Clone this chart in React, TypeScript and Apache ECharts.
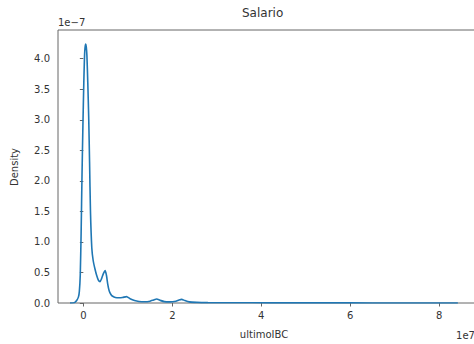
import React, { useEffect, useRef } from "react";
import * as echarts from "echarts";

// KDE of ultimoIBC: x in units of 1e7, density in units of 1e-7
const xs = [
  -0.3, -0.22, -0.19, -0.15, -0.11, -0.09, -0.07, -0.05, -0.03, -0.01, 0.01, 0.03,
  0.05, 0.065, 0.08, 0.1, 0.12, 0.14, 0.16, 0.19, 0.22, 0.26, 0.3, 0.34, 0.375,
  0.41, 0.45, 0.49, 0.52, 0.55, 0.58, 0.62, 0.66, 0.72, 0.8, 0.88, 0.97, 1.05, 1.15,
  1.25, 1.38, 1.5, 1.58, 1.65, 1.72, 1.82, 1.95, 2.08, 2.15, 2.21, 2.28, 2.38, 2.55,
  2.8, 3.2, 3.8, 4.5, 5.5, 6.5, 7.5, 8.1, 8.42,
];
const density = [
  0.0, 0.003, 0.01, 0.04, 0.1, 0.19, 0.45, 1.15, 2.1, 2.9, 3.6, 4.1,
  4.24, 4.2, 4.05, 3.6, 3.05, 2.3, 1.5, 0.9, 0.7, 0.56, 0.45, 0.37, 0.35,
  0.4, 0.48, 0.53, 0.45, 0.3, 0.2, 0.14, 0.11, 0.09, 0.085, 0.09, 0.105, 0.07, 0.04,
  0.025, 0.02, 0.03, 0.05, 0.065, 0.045, 0.022, 0.018, 0.03, 0.05, 0.06, 0.04, 0.018, 0.01,
  0.006, 0.004, 0.003, 0.002, 0.002, 0.001, 0.001, 0.001, 0.0,
];
const xTicks = [0, 2, 4, 6, 8];
const yTicks = [0, 0.5, 1, 1.5, 2, 2.5, 3, 3.5, 4];

const FONT = "DejaVu Sans";
const TEXT = "#333";
const SPINE = "#666";

export default function App() {
  const ref = useRef<HTMLDivElement>(null);

  useEffect(() => {
    if (!ref.current) return;
    const chart = echarts.init(ref.current, null, { renderer: "svg" });
    chart.setOption({
      animation: false,
      backgroundColor: "#fff",
      grid: {
        left: 58,
        top: 30,
        width: 419,
        height: 273,
        show: true,
        borderColor: SPINE,
        borderWidth: 1,
        backgroundColor: "transparent",
      },
      xAxis: {
        type: "value",
        min: -0.57,
        max: 8.85,
        axisLine: { show: false },
        splitLine: { show: false },
        axisTick: {
          show: true,
          length: 3.5,
          lineStyle: { color: SPINE },
          customValues: xTicks,
        },
        axisLabel: {
          customValues: xTicks,
          margin: 7,
          color: TEXT,
          fontFamily: FONT,
          fontSize: 10,
          formatter: (v: number) => String(v),
        },
      },
      yAxis: {
        type: "value",
        min: 0,
        max: 4.47,
        axisLine: { show: false },
        splitLine: { show: false },
        axisTick: {
          show: true,
          length: 3.5,
          lineStyle: { color: SPINE },
          customValues: yTicks,
        },
        axisLabel: {
          customValues: yTicks,
          margin: 8,
          color: TEXT,
          fontFamily: FONT,
          fontSize: 10,
          formatter: (v: number) => v.toFixed(1),
        },
      },
      series: [
        {
          type: "line",
          data: xs.map((x, i) => [x, density[i]]),
          showSymbol: false,
          smooth: 0.2,
          lineStyle: { color: "#1f77b4", width: 1.6 },
          clip: true,
        },
      ],
      graphic: [
        {
          type: "text",
          left: 242,
          top: 7,
          style: { text: "Salario", font: `12px '${FONT}'`, fill: TEXT },
        },
        {
          type: "text",
          x: 58,
          y: 22,
          style: {
            text: "1e\u22127",
            font: `10px '${FONT}'`,
            fill: TEXT,
            verticalAlign: "middle",
          },
        },
        {
          type: "text",
          x: 264,
          y: 334,
          style: {
            text: "ultimoIBC",
            font: `10px '${FONT}'`,
            fill: TEXT,
            align: "center",
            verticalAlign: "middle",
          },
        },
        {
          type: "text",
          x: 475,
          y: 335,
          style: {
            text: "1e7",
            font: `10px '${FONT}'`,
            fill: TEXT,
            align: "right",
            verticalAlign: "middle",
          },
        },
        {
          type: "text",
          x: 14,
          y: 167,
          rotation: Math.PI / 2,
          style: {
            text: "Density",
            font: `10px '${FONT}'`,
            fill: TEXT,
            align: "center",
            verticalAlign: "middle",
          },
        },
      ],
    });
    return () => chart.dispose();
  }, []);

  return (
    <div
      style={{
        position: "fixed",
        left: 0,
        top: 0,
        width: 474,
        height: 344,
        overflow: "hidden",
        background: "#fff",
      }}
    >
      <div ref={ref} style={{ width: 480, height: 344 }} />
    </div>
  );
}
